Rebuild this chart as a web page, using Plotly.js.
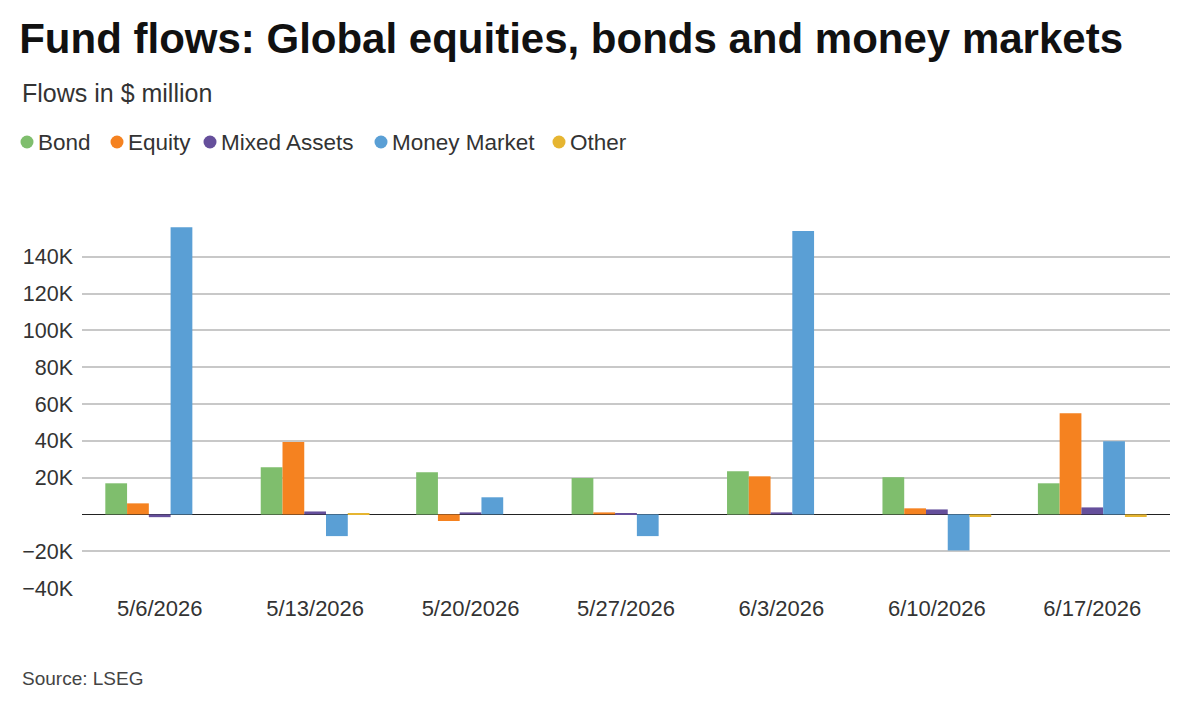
<!DOCTYPE html>
<html>
<head>
<meta charset="utf-8">
<script src="https://cdn.plot.ly/plotly-3.0.1.min.js"></script>
<style>body{margin:0;background:#fff}#chart{width:1200px;height:704px}</style>
</head>
<body>
<div id="chart"></div>
<script>
const weeks = ["5/6/2026","5/13/2026","5/20/2026","5/27/2026","6/3/2026","6/10/2026","6/17/2026"];
const bond = [16900, 25600, 22900, 19800, 23400, 20200, 16900];
const equity = [6000, 39400, -3600, 1100, 20700, 3300, 55000];
const mixedAssets = [-1500, 1600, 1100, 500, 1100, 2700, 3800];
const moneyMarket = [156000, -11800, 9300, -11800, 154000, -19600, 39800];
const other = [0, 500, 0, 0, 0, -1400, -1400];
const seriesNames = ["Bond","Equity","Mixed Assets","Money Market","Other"];
const seriesColors = ["#7fbe6d","#f58220","#654f9b","#5a9fd5","#e6b531"];
const yTickVals = [-40000,-20000,20000,40000,60000,80000,100000,120000,140000];
const yTickText = ["\u221240K","\u221220K","20K","40K","60K","80K","100K","120K","140K"];

const values = [bond, equity, mixedAssets, moneyMarket, other];
const traces = values.map((v,i)=>({
  type:"bar", x:weeks, y:v, name:seriesNames[i], marker:{color:seriesColors[i]}, showlegend:false
}));

// plot area geometry (pixels)
const L = 82, R = 30, T = 220, B = 116, W = 1200, H = 704;
const pw = W - L - R, ph = H - T - B;
const px = x => (x - L) / pw;
const py = y => (H - B - y) / ph;

const font = "Liberation Sans, Arial, Helvetica, sans-serif";
const legendCircleX = [27, 117, 210, 381, 559];
const legendY = 142;
const shapes = [], annotations = [];
seriesNames.forEach((n,i)=>{
  shapes.push({type:"circle", xref:"paper", yref:"paper", xsizemode:"pixel", ysizemode:"pixel",
    xanchor:px(legendCircleX[i]), yanchor:py(legendY), x0:-6.5, x1:6.5, y0:-6.5, y1:6.5,
    fillcolor:seriesColors[i], line:{width:0}});
  annotations.push({text:n, xref:"paper", yref:"paper", x:px(legendCircleX[i]+9), xanchor:"left",
    y:py(legendY), yanchor:"middle", showarrow:false, font:{size:22.5, color:"#333"}});
});
annotations.push({text:"Flows in $ million", xref:"paper", yref:"paper", x:px(20), xanchor:"left", y:py(93), yanchor:"middle", showarrow:false, font:{size:25, color:"#333"}});
annotations.push({text:"Source: LSEG", xref:"paper", yref:"paper", x:px(20), xanchor:"left", y:py(678), yanchor:"middle", showarrow:false, font:{size:19, color:"#444"}});

const layout = {
  width:W, height:H,
  paper_bgcolor:"#fff", plot_bgcolor:"#fff",
  margin:{l:L, r:R, t:T, b:B},
  barmode:"group", bargap:0.3, bargroupgap:0,
  font:{family:font, color:"#333", size:19},
  showlegend:false,
  title:{text:"<b>Fund flows: Global equities, bonds and money markets</b>", xref:"container", yref:"container", x:0.016, xanchor:"left", y:0.945, yanchor:"middle", font:{family:font, size:42, color:"#111"}},
  xaxis:{type:"category", showgrid:false, zeroline:false, showline:false, ticks:"", ticklabelstandoff:5, tickfont:{size:22, color:"#333"}, fixedrange:true},
  yaxis:{range:[-40000,160000], tickvals:yTickVals, ticktext:yTickText, showgrid:true, gridcolor:"#c8c8c8", gridwidth:1.5, zeroline:true, zerolinecolor:"#222", zerolinewidth:1.3, showline:false, ticks:"", ticklabelstandoff:8, tickfont:{size:21.5, color:"#333"}, fixedrange:true},
  shapes:shapes,
  annotations:annotations
};
Plotly.newPlot("chart", traces, layout, {displayModeBar:false, responsive:false});
</script>
</body>
</html>
